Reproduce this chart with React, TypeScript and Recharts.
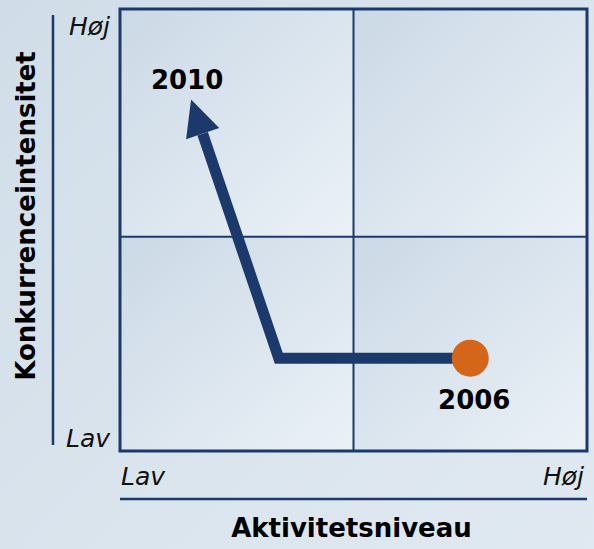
import React from 'react'
import {
  ComposedChart,
  Line,
  XAxis,
  YAxis,
  ReferenceArea,
  ReferenceLine,
} from 'recharts'

// path: 2006 -> corner -> arrow base (2010)
const years = ['2006', '', '2010']
const activity = [7.5, 3.4, 1.77]
const competition = [2.1, 2.1, 7.18]

const axisTicks = [0, 10]
const tickLabels = ['Lav', 'Høj']

// quadrant split values
const xSplit = 5
const ySplit = 4.85

const data = years.map((year, i) => ({
  year,
  x: activity[i],
  y: competition[i],
}))

const W = 594
const H = 549
const PLOT_LEFT = 120
const PLOT_TOP = 9
const PLOT_RIGHT = 587
const PLOT_BOTTOM = 451
const NAVY = '#1b3a6b'
const ORANGE = '#d4661a'
const FONT = '"DejaVu Sans", Verdana, sans-serif'

const quadrants = [
  { x1: 0, x2: xSplit, y1: ySplit, y2: 10 },
  { x1: xSplit, x2: 10, y1: ySplit, y2: 10 },
  { x1: 0, x2: xSplit, y1: 0, y2: ySplit },
  { x1: xSplit, x2: 10, y1: 0, y2: ySplit },
]

function PathDot(props: any) {
  const { cx, cy, index, points, payload } = props
  if (index === 0) {
    return (
      <g key={`dot-${index}`}>
        <circle cx={cx} cy={cy} r={18.5} fill={ORANGE} />
        <text
          x={cx + 4}
          y={cy + 51}
          textAnchor="middle"
          fontFamily={FONT}
          fontWeight="bold"
          fontSize={26}
          fill="#000"
        >
          {payload.year}
        </text>
      </g>
    )
  }
  if (index === data.length - 1) {
    let px: number
    let py: number
    if (points && points.length >= 2) {
      px = points[index - 1].x
      py = points[index - 1].y
    } else {
      const sx = (PLOT_RIGHT - PLOT_LEFT) / 10
      const sy = (PLOT_BOTTOM - PLOT_TOP) / 10
      px = cx - (data[index].x - data[index - 1].x) * sx
      py = cy + (data[index].y - data[index - 1].y) * sy
    }
    const dx = cx - px
    const dy = cy - py
    const len = Math.sqrt(dx * dx + dy * dy) || 1
    const ux = dx / len
    const uy = dy / len
    const headLen = 36
    const half = 17.5
    const tip = [cx + ux * headLen, cy + uy * headLen]
    const a = [cx - uy * half, cy + ux * half]
    const b = [cx + uy * half, cy - ux * half]
    return (
      <g key={`dot-${index}`}>
        <polygon
          points={`${tip[0]},${tip[1]} ${a[0]},${a[1]} ${b[0]},${b[1]}`}
          fill={NAVY}
        />
        <text
          x={tip[0] - 4}
          y={tip[1] - 11}
          textAnchor="middle"
          fontFamily={FONT}
          fontWeight="bold"
          fontSize={26}
          fill="#000"
        >
          {payload.year}
        </text>
      </g>
    )
  }
  return <g key={`dot-${index}`} />
}

function XTick(props: any) {
  const { x, payload } = props
  const isLow = payload.value === axisTicks[0]
  return (
    <text
      x={isLow ? x + 1 : x - 3}
      y={PLOT_BOTTOM + 34}
      textAnchor={isLow ? 'start' : 'end'}
      fontFamily={FONT}
      fontStyle="italic"
      fontSize={25}
      fill="#111"
    >
      {tickLabels[axisTicks.indexOf(payload.value)]}
    </text>
  )
}

function YTick(props: any) {
  const { y, payload } = props
  const isLow = payload.value === axisTicks[0]
  return (
    <text
      x={PLOT_LEFT - 10}
      y={isLow ? y - 4 : y + 26}
      textAnchor="end"
      fontFamily={FONT}
      fontStyle="italic"
      fontSize={25}
      fill="#111"
    >
      {tickLabels[axisTicks.indexOf(payload.value)]}
    </text>
  )
}

export default function App() {
  return (
    <div
      style={{
        position: 'absolute',
        left: 0,
        top: 0,
        width: W,
        height: H,
        background: 'linear-gradient(135deg, #d0dde8 0%, #dbe5ee 60%, #e0e9f1 100%)',
        overflow: 'hidden',
      }}
    >
      <ComposedChart
        width={W}
        height={H}
        data={data}
        margin={{ top: PLOT_TOP, right: W - PLOT_RIGHT, bottom: 50, left: 53 }}
      >
        <defs>
          <linearGradient id="quad" x1="0" y1="0" x2="1" y2="1">
            <stop offset="0%" stopColor="#cbd9e6" />
            <stop offset="100%" stopColor="#ebf1f7" />
          </linearGradient>
        </defs>
        <XAxis
          type="number"
          dataKey="x"
          domain={[0, 10]}
          ticks={axisTicks}
          height={48}
          axisLine={false}
          tickLine={false}
          tick={<XTick />}
          interval={0}
        />
        <YAxis
          type="number"
          dataKey="y"
          domain={[0, 10]}
          ticks={axisTicks}
          width={67}
          axisLine={false}
          tickLine={false}
          tick={<YTick />}
          interval={0}
        />
        {quadrants.map((q, i) => (
          <ReferenceArea
            key={`q-${i}`}
            x1={q.x1}
            x2={q.x2}
            y1={q.y1}
            y2={q.y2}
            fill="url(#quad)"
            fillOpacity={1}
            stroke="none"
            ifOverflow="visible"
          />
        ))}
        <ReferenceLine x={xSplit} stroke={NAVY} strokeWidth={2} />
        <ReferenceLine y={ySplit} stroke={NAVY} strokeWidth={2} />
        <ReferenceArea
          x1={0}
          x2={10}
          y1={0}
          y2={10}
          fill="none"
          stroke={NAVY}
          strokeWidth={3}
          ifOverflow="visible"
        />
        <Line
          type="linear"
          dataKey="y"
          stroke={NAVY}
          strokeWidth={11}
          strokeLinejoin="miter"
          strokeLinecap="butt"
          dot={(p: any) => <PathDot {...p} />}
          activeDot={false}
          isAnimationActive={false}
        />
      </ComposedChart>
      <svg
        width={W}
        height={H}
        style={{ position: 'absolute', left: 0, top: 0, pointerEvents: 'none' }}
      >
        <line x1={53} y1={15} x2={53} y2={445} stroke={NAVY} strokeWidth={2.5} />
        <line x1={PLOT_LEFT} y1={499} x2={PLOT_RIGHT} y2={499} stroke={NAVY} strokeWidth={2.5} />
        <text
          x={(PLOT_LEFT + PLOT_RIGHT) / 2 - 2}
          y={537}
          textAnchor="middle"
          fontFamily={FONT}
          fontWeight="bold"
          fontSize={26}
          fill="#000"
        >
          Aktivitetsniveau
        </text>
        <text
          transform="translate(35,216) rotate(-90)"
          textAnchor="middle"
          fontFamily={FONT}
          fontWeight="bold"
          fontSize={26}
          fill="#000"
        >
          Konkurrenceintensitet
        </text>
      </svg>
    </div>
  )
}
